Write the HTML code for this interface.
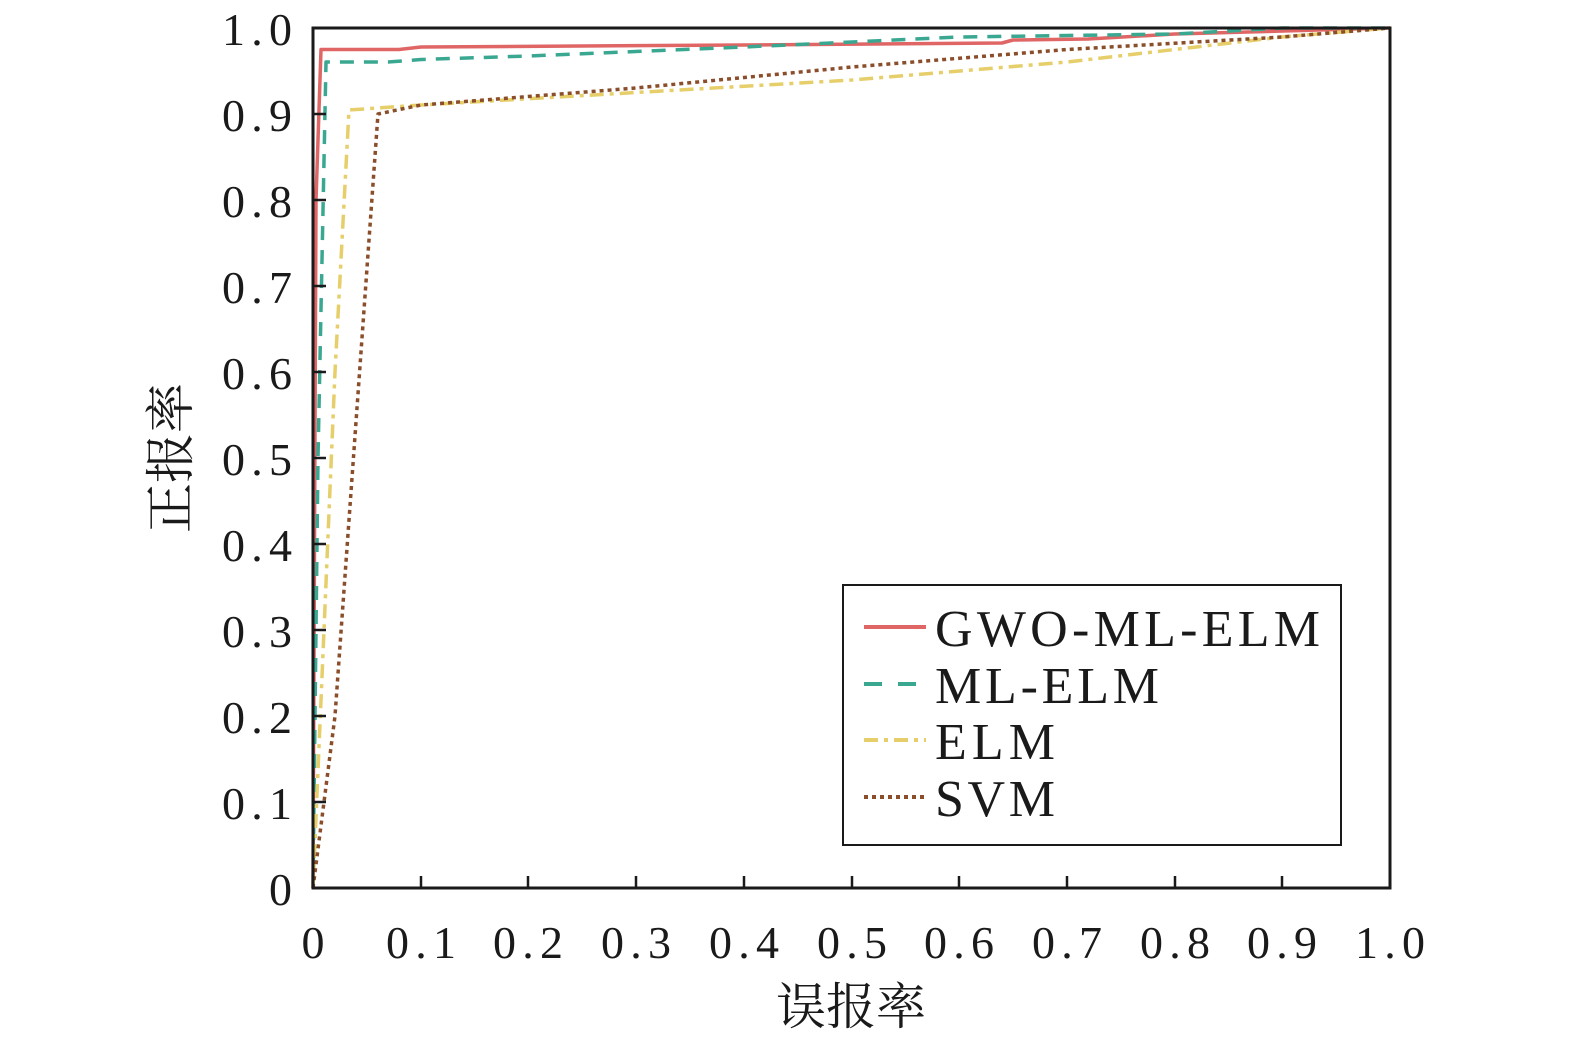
<!DOCTYPE html>
<html><head><meta charset="utf-8"><style>
html,body{margin:0;padding:0;background:#fff;}
svg{display:block;}
text{font-family:"Liberation Serif","Noto Serif CJK SC",serif;fill:#1a1a1a;}
</style></head><body>
<svg width="1575" height="1041" viewBox="0 0 1575 1041" xmlns="http://www.w3.org/2000/svg">
<rect width="1575" height="1041" fill="#fff"/>
<g fill="none" stroke-linejoin="round">
<polyline stroke="#e06666" stroke-width="3.5" points="313,888 316,200 321,49.5 399,49.5 421,47 744,45 1002,43 1013,40 1088,39 1175,34 1390,28"/>
<polyline stroke="#3aa891" stroke-width="3.5" stroke-dasharray="14,10" points="313,888 318,458 326,62 388,62 421,59.5 528,56 744,47 959,37 1175,34 1282,28 1390,28"/>
<polyline stroke="#e6cf6a" stroke-width="3.5" stroke-dasharray="14,6,4,6" points="313,888 324,630 335,372 349,110 421,105 636,92.5 852,80 1067,62 1282,37 1390,28"/>
<polyline stroke="#8b4e2a" stroke-width="3.5" stroke-dasharray="4,4" points="313,888 335,716 378,114 421,105 636,88 852,67 1067,49.5 1282,37 1390,28"/>
</g>
<rect x="313" y="28" width="1077" height="860" fill="none" stroke="#1a1a1a" stroke-width="3"/>
<g stroke="#1a1a1a" stroke-width="2.5">
<line x1="421" y1="888" x2="421" y2="876"/><line x1="528" y1="888" x2="528" y2="876"/><line x1="636" y1="888" x2="636" y2="876"/><line x1="744" y1="888" x2="744" y2="876"/><line x1="852" y1="888" x2="852" y2="876"/><line x1="959" y1="888" x2="959" y2="876"/><line x1="1067" y1="888" x2="1067" y2="876"/><line x1="1175" y1="888" x2="1175" y2="876"/><line x1="1282" y1="888" x2="1282" y2="876"/>
<line x1="313" y1="802" x2="326" y2="802"/><line x1="313" y1="716" x2="326" y2="716"/><line x1="313" y1="630" x2="326" y2="630"/><line x1="313" y1="544" x2="326" y2="544"/><line x1="313" y1="458" x2="326" y2="458"/><line x1="313" y1="372" x2="326" y2="372"/><line x1="313" y1="286" x2="326" y2="286"/><line x1="313" y1="200" x2="326" y2="200"/><line x1="313" y1="114" x2="326" y2="114"/>
</g>
<g font-size="46" text-anchor="end">
<text x="292" y="905">0</text><text x="292" y="819" textLength="70">0.1</text><text x="292" y="733" textLength="70">0.2</text><text x="292" y="647" textLength="70">0.3</text><text x="292" y="561" textLength="70">0.4</text><text x="292" y="475" textLength="70">0.5</text><text x="292" y="389" textLength="70">0.6</text><text x="292" y="303" textLength="70">0.7</text><text x="292" y="217" textLength="70">0.8</text><text x="292" y="131" textLength="70">0.9</text><text x="292" y="45" textLength="70">1.0</text>
</g>
<g font-size="46" text-anchor="middle">
<text x="313" y="958">0</text><text x="421" y="958" textLength="70">0.1</text><text x="528" y="958" textLength="70">0.2</text><text x="636" y="958" textLength="70">0.3</text><text x="744" y="958" textLength="70">0.4</text><text x="852" y="958" textLength="70">0.5</text><text x="959" y="958" textLength="70">0.6</text><text x="1067" y="958" textLength="70">0.7</text><text x="1175" y="958" textLength="70">0.8</text><text x="1282" y="958" textLength="70">0.9</text><text x="1390" y="958" textLength="70">1.0</text>
</g>
<text x="851" y="1024" font-size="50" text-anchor="middle">误报率</text>
<text x="0" y="0" font-size="50" text-anchor="middle" transform="translate(188,458) rotate(-90)">正报率</text>
<rect x="843" y="585" width="498" height="260" fill="#fff" stroke="#1a1a1a" stroke-width="2"/>
<line x1="864" y1="627" x2="926" y2="627" stroke="#e06666" stroke-width="4"/>
<line x1="864" y1="684" x2="926" y2="684" stroke="#3aa891" stroke-width="4" stroke-dasharray="18,16"/>
<line x1="864" y1="740" x2="926" y2="740" stroke="#e6cf6a" stroke-width="4" stroke-dasharray="14,6,4,6"/>
<line x1="864" y1="797" x2="926" y2="797" stroke="#8b4e2a" stroke-width="4" stroke-dasharray="4,4"/>
<g font-size="52">
<text x="935" y="646" textLength="385">GWO-ML-ELM</text><text x="935" y="703" textLength="224">ML-ELM</text><text x="935" y="759" textLength="120">ELM</text><text x="935" y="816" textLength="120">SVM</text>
</g>
</svg>
</body></html>
